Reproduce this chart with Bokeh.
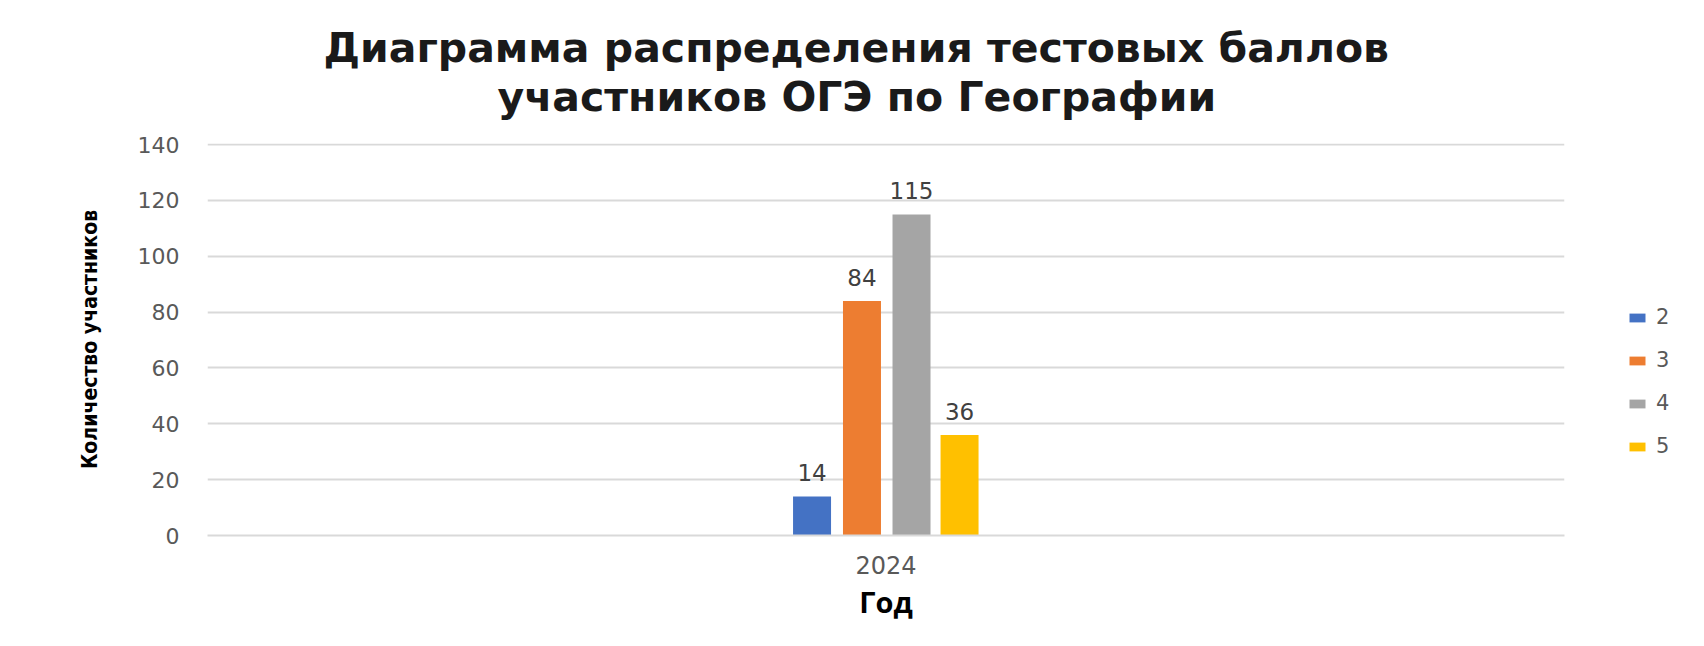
from bokeh.plotting import figure
from bokeh.models import FactorRange, Range1d, Title, Legend, LegendItem, ColumnDataSource
from bokeh.transform import dodge
from bokeh.core.properties import value
from bokeh.embed import file_html
from bokeh.resources import INLINE

years = ["2024"]
series_names = ["2", "3", "4", "5"]
series_values = [[14], [84], [115], [36]]
colors = ["#4472C4", "#ED7D31", "#A5A5A5", "#FFC000"]
offsets = [-0.0545, -0.0177, 0.0188, 0.0542]
y_ticks = [0, 20, 40, 60, 80, 100, 120, 140]
title_lines = ["Диаграмма распределения тестовых баллов", "участников ОГЭ по Географии"]
y_label = "Количество участников"
x_label = "Год"

p = figure(frame_width=1357, frame_height=392, x_range=FactorRange(factors=years, range_padding=0),
           y_range=Range1d(0, 140.4), output_backend="svg", toolbar_location=None,
           min_border_left=207, min_border_right=124, min_border_top=143, min_border_bottom=96)
p.outline_line_color = None
p.background_fill_color = "white"
p.border_fill_color = "white"

renderers = []
for name, vals, col, off in zip(series_names, series_values, colors, offsets):
    src = ColumnDataSource(dict(x=years, y=vals, t=[str(v) for v in vals]))
    r = p.vbar(x=dodge("x", off, range=p.x_range), top="y", width=0.028, source=src,
               fill_color=col, line_color=None)
    p.text(x=dodge("x", off, range=p.x_range), y="y", text="t", source=src,
           text_align="center", text_baseline="bottom", y_offset=-15,
           text_font=value("DejaVu Sans"), text_font_size="23px", text_color="#404040")
    renderers.append((name, r))

legend = Legend(items=[LegendItem(label=n, renderers=[r]) for n, r in renderers],
                location=(63, 77), orientation="vertical",
                glyph_width=20, glyph_height=11, label_height=20, label_width=10, spacing=19,
                label_standoff=9, padding=0, margin=0,
                border_line_color=None, background_fill_alpha=0,
                label_text_font="DejaVu Sans", label_text_font_size="21px",
                label_text_color="#595959")
p.add_layout(legend, "right")

p.yaxis.ticker = y_ticks
p.yaxis.axis_line_color = None
p.yaxis.major_tick_line_color = None
p.yaxis.minor_tick_line_color = None
p.yaxis.major_label_standoff = 22
p.yaxis.major_label_text_font = "DejaVu Sans"
p.yaxis.major_label_text_font_size = "22px"
p.yaxis.major_label_text_color = "#595959"
p.yaxis.axis_label = y_label
p.yaxis.axis_label_text_font = "DejaVu Sans Condensed"
p.yaxis.axis_label_text_font_style = "bold"
p.yaxis.axis_label_text_font_size = "21px"
p.yaxis.axis_label_text_color = "black"
p.yaxis.axis_label_standoff = 33

p.xaxis.axis_line_color = "#d9d9d9"
p.xaxis.axis_line_width = 2
p.xaxis.major_tick_line_color = None
p.xaxis.minor_tick_line_color = None
p.xaxis.major_label_standoff = 14
p.xaxis.major_label_text_font = "DejaVu Sans"
p.xaxis.major_label_text_font_size = "24px"
p.xaxis.major_label_text_color = "#595959"
p.xaxis.axis_label = x_label
p.xaxis.axis_label_text_font = "Open Sans"
p.xaxis.axis_label_text_font_style = "bold"
p.xaxis.axis_label_text_font_size = "29px"
p.xaxis.axis_label_text_color = "black"
p.xaxis.axis_label_standoff = 5

p.xgrid.grid_line_color = None
p.ygrid.grid_line_color = "#d9d9d9"
p.ygrid.grid_line_width = 2

for txt, so, off in zip(reversed(title_lines), [45, -46], [290, 116]):
    p.add_layout(Title(text=txt, align="left", offset=off, standoff=so,
                       text_font="DejaVu Sans", text_font_style="bold",
                       text_font_size="41px", text_color="#1a1a1a",
                       text_line_height=0.85), "above")

open("out.html", "w").write(file_html(p, INLINE))
